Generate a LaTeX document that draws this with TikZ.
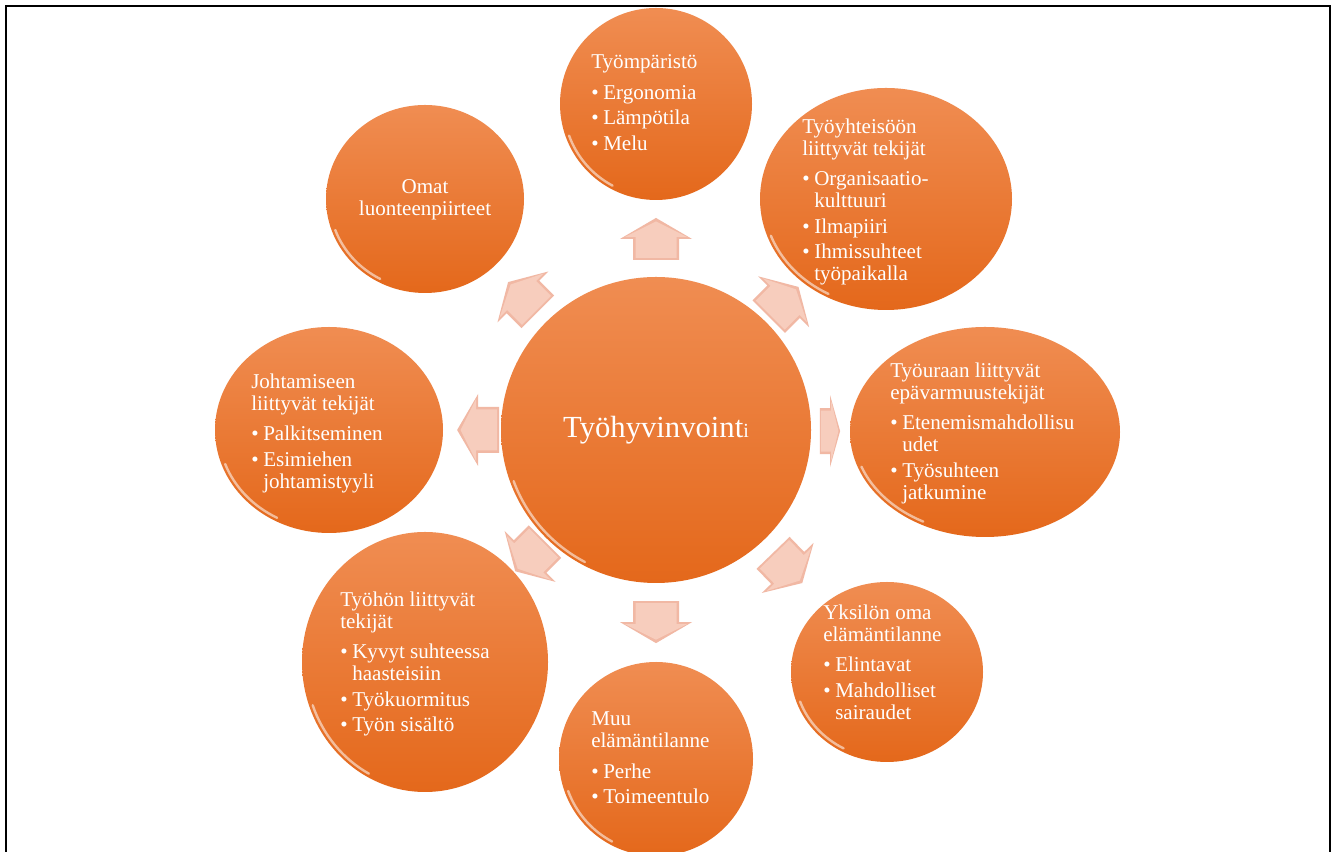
\documentclass[tikz,border=0pt]{standalone}
\usepackage{fontspec}
\setmainfont{Liberation Serif}
\usepackage{tikz}
\usetikzlibrary{calc, shapes.geometric}
\definecolor{bubbleTop}{HTML}{F08D52}
\definecolor{bubbleMid}{HTML}{F27E2C}
\definecolor{bubbleBottom}{HTML}{E4681B}
\definecolor{arrowFace}{HTML}{F7CDBD}
\definecolor{arrowEdge}{HTML}{F1B8A4}
\newcommand{\bullitem}{\makebox[9pt][l]{\textbullet}}
\newcommand{\bullcont}{\hspace*{9pt}}

\begin{document}
\begin{tikzpicture}[x=0.75pt, y=0.75pt,
    bubble/.style={ellipse, inner sep=0pt, top color=bubbleTop,
        middle color=bubbleMid, bottom color=bubbleBottom},
    gloss/.style={white, line width=1.8pt, opacity=0.55, line cap=round},
    txt/.style={text=white, font=\fontsize{15.8}{16.5}\selectfont,
        align=left, inner sep=0pt, anchor=north west},
    blockarrow/.pic={
        \fill[arrowEdge] (-21,-23) -- (0,-23) -- (0,-36) -- (21,0)
            -- (0,36) -- (0,23) -- (-21,23) -- cycle;
        \fill[arrowFace] (-19,-20.5) -- (2,-20.5) -- (2,-31) -- (17.5,0)
            -- (2,31) -- (2,20.5) -- (-19,20.5) -- cycle;
    }]
    \useasboundingbox (0,0) rectangle (1335,852);
    \clip (0,0) rectangle (1335,852);
    \fill[white] (0,0) rectangle (1335,852);
    \draw[line width=1.5pt] (6,-20) rectangle (1329.5,846);

    % bubbles
    \node[bubble, minimum width=232.5pt, minimum height=229.5pt] (core) at (656,422) {};
    \node[bubble, minimum width=144pt, minimum height=144pt] (env) at (656,748) {};
    \node[bubble, minimum width=189pt, minimum height=166.5pt] (comm) at (886,653) {};
    \node[bubble, minimum width=202.5pt, minimum height=157.5pt] (career) at (985,420) {};
    \node[bubble, minimum width=144pt, minimum height=135pt] (life) at (887,180) {};
    \node[bubble, minimum width=145.5pt, minimum height=145.5pt] (other) at (656,93) {};
    \node[bubble, minimum width=184.5pt, minimum height=195pt] (work) at (425,190) {};
    \node[bubble, minimum width=171pt, minimum height=154.5pt] (lead) at (329,422) {};
    \node[bubble, minimum width=148.5pt, minimum height=141pt] (traits) at (425,653) {};

    % glossy rim on the lower left
    \foreach \n/\a/\b in {core/155/153, env/96/96, comm/126/111, career/135/105,
        life/96/90, other/97/97, work/123/130, lead/114/103, traits/99/94} {
        \pgfmathsetmacro\ra{\a-3.5}
        \pgfmathsetmacro\rb{\b-3.5}
        \pgfmathsetmacro\sx{\ra*cos(200)}
        \pgfmathsetmacro\sy{\rb*sin(200)}
        \draw[gloss] ([shift={(\sx,\sy)}]\n.center)
            arc[start angle=200, end angle=242, x radius=\ra, y radius=\rb];
    }

    % arrows from the centre outwards
    \pic[rotate=90] at ($(core)!0.586!(env)$) {blockarrow};
    \pic[rotate=45] at ($(core)!0.555!(comm)$) {blockarrow};
    \pic[xscale=0.48] at ($(core)!0.529!(career)$) {blockarrow};
    \pic[rotate=-46] at ($(core)!0.57!(life)$) {blockarrow};
    \pic[rotate=-90] at ($(core)!0.584!(other)$) {blockarrow};
    \pic[rotate=-135] at ($(core)!0.545!(work)$) {blockarrow};
    \pic[rotate=180] at ($(core)!0.544!(lead)$) {blockarrow};
    \pic[rotate=135] at ($(core)!0.576!(traits)$) {blockarrow};

    % texts
    \node[text=white, font=\fontsize{23}{26}\selectfont] (coretext) at (core)
        {Työhyvinvoint{\fontsize{15}{18}\selectfont i}};
    \node[txt, align=center, anchor=center] (traitstext) at (425,652)
        {Omat\\luonteenpiirteet};
    \node[txt] (envtext) at (591,797.5)
        {Työmpäristö\\[6.4pt]
         \bullitem Ergonomia\\[2.6pt]
         \bullitem Lämpötila\\[2.6pt]
         \bullitem Melu};
    \node[txt] (commtext) at (802,733.5)
        {Työyhteisöön\\
         liittyvät tekijät\\[6.4pt]
         \bullitem Organisaatio-\\
         \bullcont kulttuuri\\[2.6pt]
         \bullitem Ilmapiiri\\[2.6pt]
         \bullitem Ihmissuhteet\\
         \bullcont työpaikalla};
    \node[txt] (careertext) at (890,489.5)
        {Työuraan liittyvät\\
         epävarmuustekijät\\[6.4pt]
         \bullitem Etenemismahdollisu\\
         \bullcont udet\\[2.6pt]
         \bullitem Työsuhteen\\
         \bullcont jatkumine};
    \node[txt] (lifetext) at (823,247.5)
        {Yksilön oma\\
         elämäntilanne\\[6.4pt]
         \bullitem Elintavat\\[2.6pt]
         \bullitem Mahdolliset\\
         \bullcont sairaudet};
    \node[txt] (othertext) at (591,140.5)
        {Muu\\
         elämäntilanne\\[6.4pt]
         \bullitem Perhe\\[2.6pt]
         \bullitem Toimeentulo};
    \node[txt] (worktext) at (340,260.5)
        {Työhön liittyvät\\
         tekijät\\[6.4pt]
         \bullitem Kyvyt suhteessa\\
         \bullcont haasteisiin\\[2.6pt]
         \bullitem Työkuormitus\\[2.6pt]
         \bullitem Työn sisältö};
    \node[txt] (leadtext) at (251,478.5)
        {Johtamiseen\\
         liittyvät tekijät\\[6.4pt]
         \bullitem Palkitseminen\\[2.6pt]
         \bullitem Esimiehen\\
         \bullcont johtamistyyli};
\end{tikzpicture}
\end{document}
